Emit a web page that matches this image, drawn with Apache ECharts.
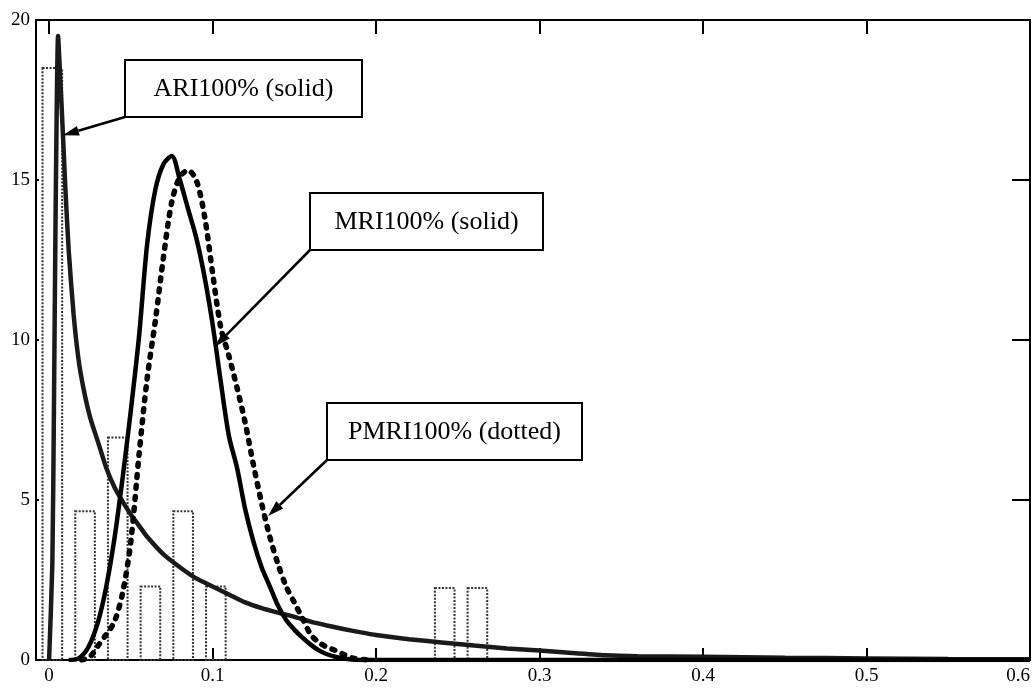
<!DOCTYPE html>
<html>
<head>
<meta charset="utf-8">
<script src="https://cdn.jsdelivr.net/npm/echarts@6/dist/echarts.min.js"></script>
<style>html,body{margin:0;padding:0;background:#fff}#c{width:1036px;height:700px}</style>
</head>
<body>
<div id="c"></div>
<script>
// ---- data ----
const xTicks = [0, 0.1, 0.2, 0.3, 0.4, 0.5, 0.6];
const histCenters = [0.002, 0.022, 0.042, 0.062, 0.082, 0.102, 0.242, 0.262];
const histHeights = [18.5, 4.65, 6.95, 2.3, 4.65, 2.3, 2.25, 2.25];
const histBinWidth = 0.012;
const ari = [[0,0],[0.002,3],[0.003,8],[0.004,14],[0.0055,19.5],[0.007,18],[0.0085,16.4],[0.01,14.7],[0.012,12.8],[0.015,10.8],[0.018,9.4],[0.021,8.5],[0.025,7.6],[0.03,6.8],[0.035,6.0],[0.04,5.4],[0.045,4.95],[0.05,4.55],[0.055,4.2],[0.06,3.85],[0.07,3.3],[0.08,2.9],[0.09,2.55],[0.1,2.3],[0.11,2.05],[0.12,1.8],[0.13,1.62],[0.14,1.48],[0.15,1.35],[0.16,1.2],[0.17,1.08],[0.18,0.97],[0.19,0.87],[0.2,0.78],[0.22,0.65],[0.24,0.55],[0.26,0.45],[0.28,0.36],[0.3,0.3],[0.32,0.22],[0.34,0.15],[0.36,0.12],[0.4,0.1],[0.45,0.07],[0.5,0.05],[0.55,0.03],[0.6,0.02]];
const mri = [[0.012,0],[0.018,0.05],[0.024,0.4],[0.03,1.2],[0.035,2.3],[0.04,3.8],[0.045,5.7],[0.05,7.8],[0.055,10.1],[0.06,13.0],[0.065,14.7],[0.07,15.5],[0.075,15.75],[0.08,15.0],[0.085,14.1],[0.09,13.2],[0.095,12.0],[0.1,10.5],[0.105,8.7],[0.11,7.0],[0.115,6.0],[0.12,4.7],[0.125,3.7],[0.13,2.9],[0.135,2.3],[0.14,1.7],[0.145,1.25],[0.15,0.95],[0.155,0.7],[0.16,0.48],[0.165,0.3],[0.17,0.18],[0.175,0.1],[0.18,0.05],[0.19,0],[0.6,0]];
const pmri = [[0.02,0],[0.025,0.1],[0.03,0.45],[0.035,0.8],[0.04,1.2],[0.045,2.1],[0.05,3.7],[0.055,6.4],[0.06,8.8],[0.065,10.6],[0.07,12.6],[0.075,14.3],[0.08,15.1],[0.085,15.3],[0.09,15.0],[0.095,13.9],[0.1,12.1],[0.105,10.4],[0.11,9.5],[0.115,8.5],[0.12,7.4],[0.125,6.1],[0.13,4.9],[0.135,3.85],[0.14,3.0],[0.145,2.3],[0.15,1.8],[0.155,1.3],[0.16,0.8],[0.165,0.55],[0.17,0.4],[0.175,0.3],[0.18,0.18],[0.186,0.06],[0.195,0]];
const labels = ['ARI100% (solid)', 'MRI100% (solid)', 'PMRI100% (dotted)'];
const arrowTargets = [[0.0085, 16.4], [0.1015, 9.8], [0.134, 4.5]];

const histData = histCenters.map((c, i) => [c, histHeights[i]]);
const FONT = 'Liberation Serif';

const chart = echarts.init(document.getElementById('c'), null, {renderer: 'canvas'});
const axisLineStyle = {color: '#000', width: 2};
function xAx(pos, showLabel, tickLen) {
  return {
    type: 'value', min: -0.008, max: 0.6, position: pos,
    axisLine: {show: true, onZero: false, lineStyle: axisLineStyle},
    axisTick: {show: true, inside: true, length: tickLen, customValues: xTicks, lineStyle: {color: '#000', width: 2}},
    axisLabel: {show: showLabel, customValues: xTicks, fontFamily: FONT, fontSize: 19, color: '#000', margin: 7,
      alignMaxLabel: 'right',
      formatter: v => String(Math.round(v * 10) / 10)},
    splitLine: {show: false}
  };
}
function yAx(pos, showLabel, tickLen) {
  return {
    type: 'value', min: 0, max: 20, interval: 5, position: pos,
    axisLine: {show: true, onZero: false, lineStyle: axisLineStyle},
    axisTick: {show: true, inside: true, length: tickLen, lineStyle: {color: '#000', width: 2}},
    axisLabel: {show: showLabel, fontFamily: FONT, fontSize: 19, color: '#000', margin: 6},
    splitLine: {show: false}
  };
}
chart.setOption({
  animation: false,
  backgroundColor: '#fff',
  grid: {left: 36, right: 6, top: 20, bottom: 40, containLabel: false, outerBoundsMode: 'none'},
  xAxis: [xAx('bottom', true, 12), xAx('top', false, 14)],
  yAxis: [yAx('left', true, 3), yAx('right', false, 18)],
  series: [
    {
      type: 'custom', xAxisIndex: 0, yAxisIndex: 0, data: histData, z: 1,
      renderItem: function (params, api) {
        const x = api.value(0), h = api.value(1);
        const p0 = api.coord([x - histBinWidth / 2, h]);
        const p1 = api.coord([x + histBinWidth / 2, 0]);
        return {type: 'rect', shape: {x: p0[0], y: p0[1], width: p1[0] - p0[0], height: p1[1] - p0[1]},
          style: {fill: 'none', stroke: '#333', lineWidth: 2, lineDash: [2, 1.5]}};
      }
    },
    {type: 'line', data: ari, showSymbol: false, smooth: 0.2, z: 3,
      lineStyle: {color: '#1a1a1a', width: 4.5}},
    {type: 'line', data: mri, showSymbol: false, smooth: 0.3, z: 3,
      lineStyle: {color: '#000', width: 4.5}},
    {type: 'line', data: pmri, showSymbol: false, smooth: 0.3, z: 3,
      lineStyle: {color: '#000', width: 5.5, type: [3, 8], cap: 'round'}}
  ]
});

// ---- annotations (boxes with arrows) ----
const boxes = [
  {x: 125, y: 60, w: 237, h: 57},
  {x: 310, y: 193, w: 233, h: 57},
  {x: 327, y: 403, w: 255, h: 57}
];
const graphics = [];
boxes.forEach((b, i) => {
  graphics.push({type: 'rect', shape: {x: b.x, y: b.y, width: b.w, height: b.h},
    style: {fill: '#fff', stroke: '#000', lineWidth: 2}, z: 10});
  graphics.push({type: 'text', x: b.x + b.w / 2, y: b.y + b.h / 2 + 1,
    style: {text: labels[i], font: '26px "Liberation Serif"', fill: '#000', align: 'center', verticalAlign: 'middle'}, z: 11});
  const tip = chart.convertToPixel({xAxisIndex: 0, yAxisIndex: 0}, arrowTargets[i]);
  const sx = b.x, sy = b.y + b.h;
  const ang = Math.atan2(tip[1] - sy, tip[0] - sx);
  const L = 16, W = 5;
  const bx = tip[0] - L * Math.cos(ang), by = tip[1] - L * Math.sin(ang);
  graphics.push({type: 'line', shape: {x1: sx, y1: sy, x2: bx, y2: by}, style: {stroke: '#000', lineWidth: 2.5}, z: 10});
  graphics.push({type: 'polygon', shape: {points: [
    [tip[0], tip[1]],
    [bx + W * Math.sin(ang), by - W * Math.cos(ang)],
    [bx - W * Math.sin(ang), by + W * Math.cos(ang)]
  ]}, style: {fill: '#000'}, z: 10});
});
chart.setOption({graphic: graphics});
</script>
</body>
</html>
